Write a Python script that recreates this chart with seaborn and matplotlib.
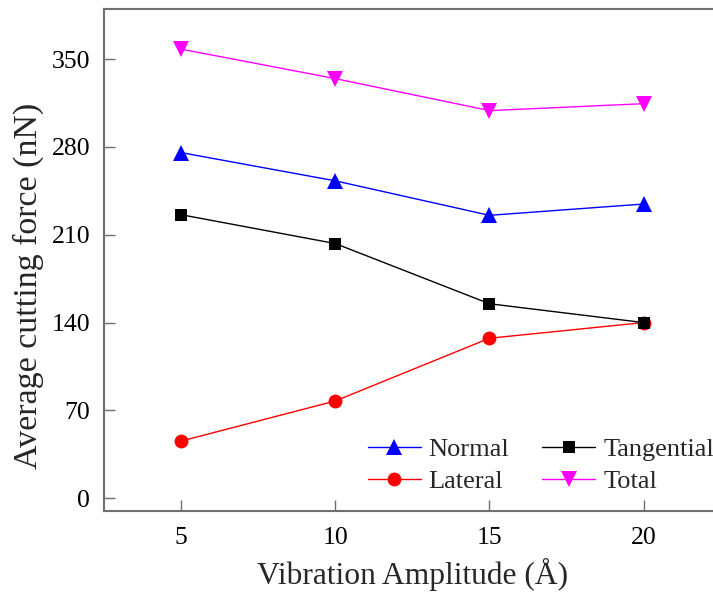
import matplotlib
matplotlib.use("Agg")
import matplotlib.pyplot as plt
import seaborn as sns
import pandas as pd

amplitude = [5, 10, 15, 20]
normal = [275.5, 253.0, 225.5, 234.5]
tangential = [226.0, 203.0, 155.0, 140.0]
lateral = [45.5, 77.5, 127.5, 140.0]
total = [358.0, 334.5, 309.0, 314.5]
yticks = [0, 70, 140, 210, 280, 350]
xticks = [5, 10, 15, 20]

sns.set_style("ticks")
plt.rcParams['font.family'] = ['Liberation Serif', 'DejaVu Serif']
plt.rcParams['mathtext.fontset'] = 'stix'

fig = plt.figure(figsize=(7.13, 5.92), dpi=100)
ax = fig.add_axes([104/713, 1 - 510.7/592, (720.7-104)/713, (510.7-9)/592])

series = [
    ("Normal", normal, "blue", "^", 11.5),
    ("Lateral", lateral, "red", "o", 10),
    ("Tangential", tangential, "black", "s", 9),
    ("Total", total, "magenta", "v", 11.5),
]
for name, vals, col, mk, ms in series:
    df = pd.DataFrame({"x": amplitude, "y": vals})
    sns.lineplot(data=df, x="x", y="y", ax=ax, color=col, marker=mk,
                 markersize=ms, markeredgewidth=0, linewidth=1.0, label=name)

ax.set_xlim(2.5, 22.5)
ax.set_ylim(-10, 390)
ax.set_xticks(xticks)
ax.set_yticks(yticks)
ax.tick_params(direction='in', length=8, width=1, color='#707070',
               labelsize=18.5, labelcolor='black')
ax.tick_params(axis='x', pad=12)
ax.tick_params(axis='y', pad=10)
for s in ax.spines.values():
    s.set_color('#707070')
    s.set_linewidth(1.5)
ax.set_xlabel("Vibration Amplitude (Å)", fontsize=22.7, labelpad=6)
ax.set_ylabel("Average cutting force (nN)", fontsize=24.5)
ax.yaxis.set_label_coords(-0.097, 0.448)

h, l = ax.get_legend_handles_labels()
leg = ax.legend(h, l, ncol=2, frameon=False, fontsize=19,
                loc='upper left', bbox_to_anchor=(0.428, 0.145),
                handlelength=2.0, handletextpad=0.3, columnspacing=1.25,
                labelspacing=0.32, borderaxespad=0, borderpad=0)

fig.savefig("out.png", dpi=100)
